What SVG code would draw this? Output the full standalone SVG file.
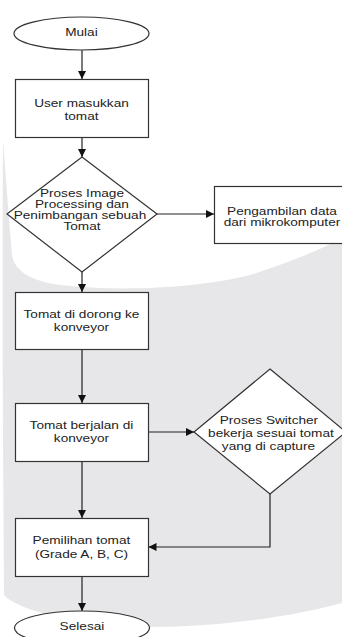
<svg xmlns="http://www.w3.org/2000/svg" width="342" height="637" viewBox="0 0 342 637">
<style>
.shape{fill:#ffffff;stroke:#333333;stroke-width:1.2}
.t{font-family:"Liberation Sans",Arial,sans-serif;font-size:11px;fill:#222222;text-anchor:middle}
.line{fill:none;stroke:#222222;stroke-width:1.2}
</style>
<defs>
<marker id="arr" viewBox="0 0 8 8" refX="8" refY="4" markerWidth="8" markerHeight="8" markerUnits="userSpaceOnUse" orient="auto">
<path d="M0,0 L8,4 L0,8 Z" fill="#111111"/>
</marker>
</defs>
<rect width="342" height="637" fill="#ffffff"/>
<path id="watermark" d="M3,140 C2,300 3,450 4,595 C20,612 80,625 150,627 C220,627 290,617 342,603 L342,238 C320,250 290,262 250,275 C200,288 120,292 60,285 C30,281 14,270 12,255 C9,220 6,180 3,140 Z" fill="#e7e7e9"/>
<g id="connectors">
<path class="line" d="M82,50 V79" marker-end="url(#arr)"/>
<path class="line" d="M82,137.5 V157" marker-end="url(#arr)"/>
<path class="line" d="M157,214 H214" marker-end="url(#arr)"/>
<path class="line" d="M82,272 V292" marker-end="url(#arr)"/>
<path class="line" d="M82,349.5 V403" marker-end="url(#arr)"/>
<path class="line" d="M148.5,432 H194" marker-end="url(#arr)"/>
<path class="line" d="M82,461.5 V518" marker-end="url(#arr)"/>
<path class="line" d="M270,494 V547 H148.5" marker-end="url(#arr)"/>
<path class="line" d="M82,576.5 V611" marker-end="url(#arr)"/>
</g>
<g id="mulai">
<ellipse class="shape" cx="81.5" cy="33.5" rx="67.5" ry="16.5"/>
<text class="t" x="65.7" y="36" transform="scale(1.24,1)">Mulai</text>
</g>
<g id="user-masukkan">
<rect class="shape" x="15.5" y="79.5" width="133" height="58"/>
<text class="t" x="65.7" y="107" transform="scale(1.24,1)">User masukkan</text>
<text class="t" x="65.7" y="120" transform="scale(1.24,1)">tomat</text>
</g>
<g id="proses-image">
<polygon class="shape" points="82,157 157,214 82,272 7,214"/>
<text class="t" x="66.1" y="197" transform="scale(1.24,1)">Proses Image</text>
<text class="t" x="66.1" y="208" transform="scale(1.24,1)">Processing dan</text>
<text class="t" x="64.5" y="219.5" transform="scale(1.24,1)">Penimbangan sebuah</text>
<text class="t" x="66.1" y="230.5" transform="scale(1.24,1)">Tomat</text>
</g>
<g id="pengambilan">
<rect class="shape" x="214.5" y="186.5" width="136" height="57"/>
<text class="t" x="227.4" y="215" transform="scale(1.24,1)">Pengambilan data</text>
<text class="t" x="227.4" y="226" transform="scale(1.24,1)">dari mikrokomputer</text>
</g>
<g id="dorong">
<rect class="shape" x="15.5" y="292.5" width="133" height="57"/>
<text class="t" x="65.7" y="318" transform="scale(1.24,1)">Tomat di dorong ke</text>
<text class="t" x="65.7" y="331.5" transform="scale(1.24,1)">konveyor</text>
</g>
<g id="berjalan">
<rect class="shape" x="15.5" y="403.5" width="133" height="58"/>
<text class="t" x="65.7" y="429" transform="scale(1.24,1)">Tomat berjalan di</text>
<text class="t" x="65.7" y="442" transform="scale(1.24,1)">konveyor</text>
</g>
<g id="switcher">
<polygon class="shape" points="270,369 346,432 270,494 194,432"/>
<text class="t" x="216.9" y="424" transform="scale(1.24,1)">Proses Switcher</text>
<text class="t" x="218.5" y="437" transform="scale(1.24,1)">bekerja sesuai tomat</text>
<text class="t" x="216.5" y="450" transform="scale(1.24,1)">yang di capture</text>
</g>
<g id="pemilihan">
<rect class="shape" x="15.5" y="518.5" width="133" height="58"/>
<text class="t" x="65.7" y="544.5" transform="scale(1.24,1)">Pemilihan tomat</text>
<text class="t" x="65.7" y="558" transform="scale(1.24,1)">(Grade A, B, C)</text>
</g>
<g id="selesai">
<ellipse class="shape" cx="82" cy="628" rx="67.5" ry="17"/>
<text class="t" x="66.1" y="630" transform="scale(1.24,1)">Selesai</text>
</g>
</svg>
